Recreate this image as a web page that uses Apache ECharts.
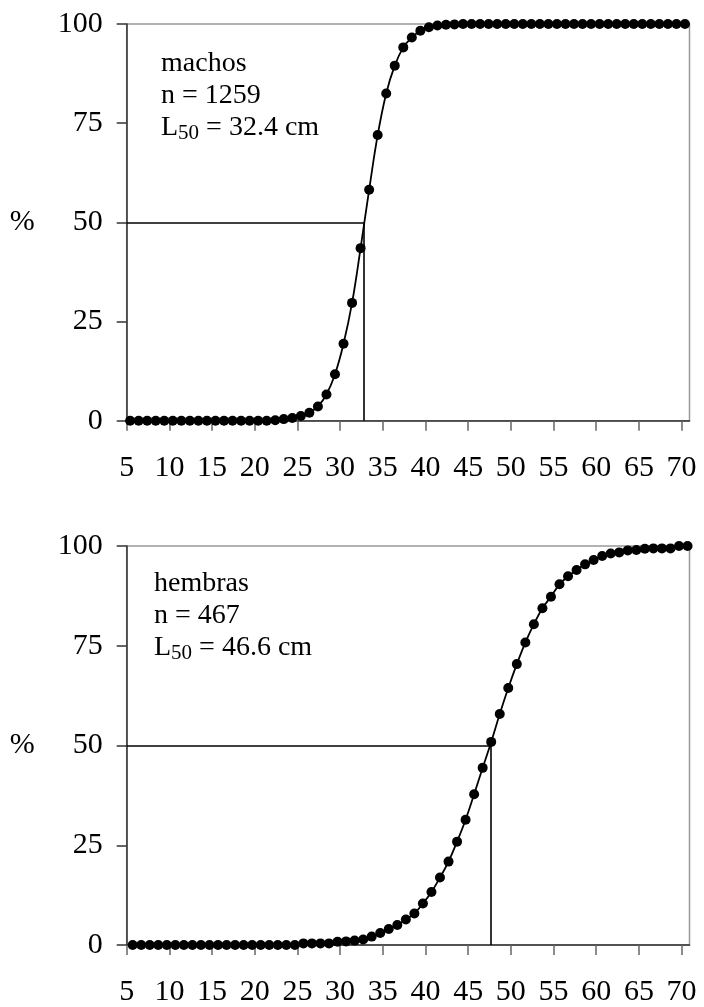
<!DOCTYPE html>
<html>
<head>
<meta charset="utf-8">
<script src="https://cdn.jsdelivr.net/npm/echarts@6/dist/echarts.min.js"></script>
<style>
  html, body { margin: 0; padding: 0; background: #fff; }
  #chart { width: 704px; height: 1007px; }
</style>
</head>
<body>
<div id="chart"></div>
<script>
// ---- data ----
const xTicks = [5, 10, 15, 20, 25, 30, 35, 40, 45, 50, 55, 60, 65, 70];
const yTicks = [0, 25, 50, 75, 100];

const machosX = [5.4, 6.4, 7.4, 8.4, 9.4, 10.4, 11.4, 12.4, 13.4, 14.4, 15.4, 16.4, 17.4, 18.4, 19.4, 20.4, 21.4,
  22.4, 23.4, 24.4, 25.4, 26.4, 27.4, 28.4, 29.4, 30.4, 31.4, 32.4, 33.4, 34.4, 35.4, 36.4, 37.4, 38.4, 39.4,
  40.4, 41.4, 42.4, 43.4, 44.4, 45.4, 46.4, 47.4, 48.4, 49.4, 50.4, 51.4, 52.4, 53.4, 54.4, 55.4, 56.4, 57.4,
  58.4, 59.4, 60.4, 61.4, 62.4, 63.4, 64.4, 65.4, 66.4, 67.4, 68.4, 69.4, 70.4];
const machosY = [0, 0, 0, 0, 0, 0, 0, 0, 0, 0, 0, 0, 0, 0, 0, 0, 0,
  0.1, 0.4, 0.7, 1.2, 2.0, 3.6, 6.6, 11.7, 19.4, 29.7, 43.5, 58.2, 72.0, 82.5, 89.5, 94.1, 96.6, 98.3,
  99.2, 99.6, 99.8, 99.9, 100, 100, 100, 100, 100, 100, 100, 100, 100, 100, 100, 100, 100, 100,
  100, 100, 100, 100, 100, 100, 100, 100, 100, 100, 100, 100, 100];

const hembrasX = [5.7, 6.7, 7.7, 8.7, 9.7, 10.7, 11.7, 12.7, 13.7, 14.7, 15.7, 16.7, 17.7, 18.7, 19.7, 20.7, 21.7,
  22.7, 23.7, 24.7, 25.7, 26.7, 27.7, 28.7, 29.7, 30.7, 31.7, 32.7, 33.7, 34.7, 35.7, 36.7, 37.7, 38.7, 39.7,
  40.7, 41.7, 42.7, 43.7, 44.7, 45.7, 46.7, 47.7, 48.7, 49.7, 50.7, 51.7, 52.7, 53.7, 54.7, 55.7, 56.7, 57.7,
  58.7, 59.7, 60.7, 61.7, 62.7, 63.7, 64.7, 65.7, 66.7, 67.7, 68.7, 69.7, 70.7];
const hembrasY = [0, 0, 0, 0, 0, 0, 0, 0, 0, 0, 0, 0, 0, 0, 0, 0, 0, 0, 0, 0,
  0.4, 0.4, 0.4, 0.4, 0.8, 0.9, 1.1, 1.4, 2.1, 3.0, 4.0, 5.0, 6.4, 7.9, 10.4, 13.3, 16.9, 20.9,
  25.9, 31.4, 37.8, 44.4, 50.9, 57.9, 64.4, 70.4, 75.8, 80.4, 84.4, 87.3, 90.4, 92.4, 94.0, 95.4,
  96.5, 97.5, 98.1, 98.4, 98.9, 99.0, 99.3, 99.4, 99.4, 99.4, 100, 100];

// L50 reference lines, as drawn in the picture (x position on the axis, at 50 %)
const refLinesX = [32.75, 47.7];
const refLevel = 50;

const labels = [
  { name: 'machos', n: 'n = 1259', l50: '32.4 cm' },
  { name: 'hembras', n: 'n = 467', l50: '46.6 cm' }
];

// ---- chart ----
const FONT = '"Liberation Serif", "Times New Roman", serif';
const zip = (xs, ys) => xs.map((x, i) => [x, ys[i]]);

const grids = [
  { left: 126.7, top: 24, width: 562.8, height: 396.7 },
  { left: 126.7, top: 546, width: 562.8, height: 400 }
];

function xAxisFor(i) {
  return {
    type: 'value', gridIndex: i, min: 5, max: 70.93,
    axisLine: { show: true, onZero: false, lineStyle: { color: '#333', width: 1.5 } },
    axisTick: { show: true, inside: false, length: 10, customValues: xTicks, lineStyle: { color: '#666', width: 1.5 } },
    axisLabel: { show: true, customValues: xTicks, margin: 32, fontSize: 30, fontFamily: FONT, color: '#000' },
    splitLine: { show: false }
  };
}
function yAxisFor(i) {
  return {
    type: 'value', gridIndex: i, min: 0, max: 100, interval: 25,
    name: '%', nameLocation: 'middle', nameRotate: 0, nameGap: 92,
    nameTextStyle: { fontSize: 30, fontFamily: FONT, color: '#000' },
    axisLine: { show: true, lineStyle: { color: '#333', width: 1.5 } },
    axisTick: { show: true, inside: false, length: 10, customValues: yTicks, lineStyle: { color: '#333', width: 1.5 } },
    axisLabel: { show: true, customValues: yTicks, margin: 24, fontSize: 30, fontFamily: FONT, color: '#000' },
    splitLine: { show: false }
  };
}
function seriesFor(i, xs, ys) {
  const lx = refLinesX[i];
  return {
    type: 'line', xAxisIndex: i, yAxisIndex: i,
    data: zip(xs, ys),
    smooth: 0.4,
    showAllSymbol: true,
    symbol: 'circle', symbolSize: 10,
    itemStyle: { color: '#000' },
    lineStyle: { color: '#000', width: 1.8 },
    clip: false,
    markLine: {
      silent: true, symbol: ['none', 'none'], animation: false,
      label: { show: false },
      lineStyle: { color: '#000', width: 1.6, type: 'solid' },
      data: [
        [{ coord: [5, refLevel] }, { coord: [lx, refLevel] }],
        [{ coord: [lx, 0] }, { coord: [lx, refLevel] }]
      ]
    }
  };
}

const titlePos = [
  { left: 161, top: 48 },
  { left: 154, top: 568 }
];

const option = {
  animation: false,
  backgroundColor: '#fff',
  grid: grids.map(g => Object.assign({ show: true, borderColor: '#999', borderWidth: 1.5, backgroundColor: 'transparent' }, g)),
  xAxis: [xAxisFor(0), xAxisFor(1)],
  yAxis: [yAxisFor(0), yAxisFor(1)],
  title: labels.map((l, i) => ({
    left: titlePos[i].left, top: titlePos[i].top, padding: 0,
    text: l.name + '\n' + l.n + '\nL{s|50} = ' + l.l50,
    textStyle: {
      fontFamily: FONT, fontSize: 28, lineHeight: 32, fontWeight: 'normal', color: '#000',
      rich: { s: { fontFamily: FONT, fontSize: 21, lineHeight: 17, fontWeight: 'normal', color: '#000', verticalAlign: 'bottom' } }
    }
  })),
  series: [seriesFor(0, machosX, machosY), seriesFor(1, hembrasX, hembrasY)]
};

const chart = echarts.init(document.getElementById('chart'), null, { renderer: 'canvas' });
chart.setOption(option);
</script>
</body>
</html>
